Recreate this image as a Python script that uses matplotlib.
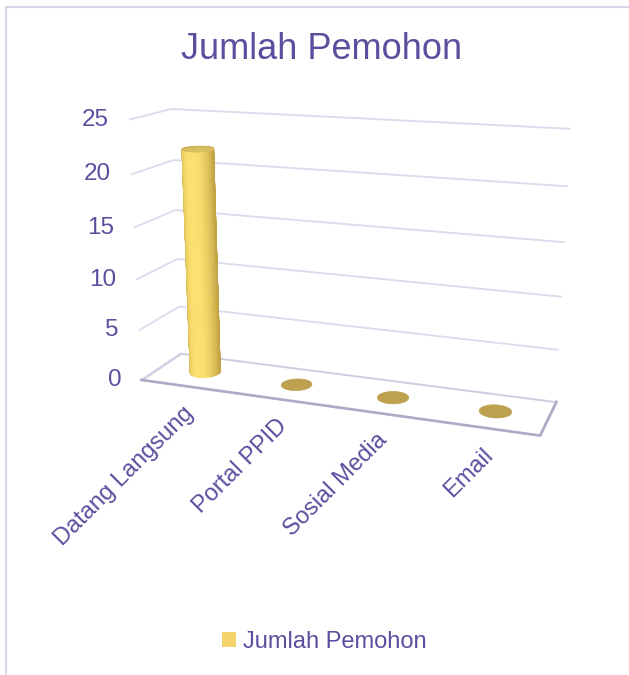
import numpy as np
import matplotlib.pyplot as plt
from matplotlib.patches import Patch, Rectangle
from matplotlib.colors import LinearSegmentedColormap
from matplotlib.transforms import offset_copy
from mpl_toolkits.mplot3d import proj3d
from mpl_toolkits.mplot3d.art3d import Poly3DCollection, Line3DCollection

plt.rcParams['font.family'] = ['Liberation Sans', 'DejaVu Sans']

# chart data
categories = ['Datang Langsung', 'Portal PPID', 'Sosial Media', 'Email']
values = [22, 0, 0, 0]
z_ticks = [0, 5, 10, 15, 20, 25]
chart_title = 'Jumlah Pemohon'
series_name = 'Jumlah Pemohon'

text_color = '#5a4f9f'
grid_color = '#dcdaec'
floor_edge = '#aeaac6'
bar_color = '#f3d36a'
disc_color = '#bea14f'
top_color = '#d6bd5e'
bar_cmap = LinearSegmentedColormap.from_list('bar', ['#c2a444', '#dcc05a', '#fde170'])

fig = plt.figure(figsize=(6.29, 6.75), dpi=100)
ax = fig.add_axes([0.015, 0.212, 1.04, 0.78], projection='3d', computed_zorder=False)
ax.set_proj_type('persp', focal_length=0.4)
ax.view_init(elev=15, azim=-70)

xmin, xmax = -0.5, len(categories) - 0.5
ymin, ymax = -0.5, 0.5
zmax = z_ticks[-1]
ax.set_xlim(xmin, xmax)
ax.set_ylim(ymin, ymax)
ax.set_zlim(0, zmax)
ax.set_box_aspect((4.76, 1, 3.1), zoom=0.945)
ax.set_axis_off()

# walls: gridlines on left side wall and back wall
segs = []
for t in z_ticks:
    segs.append([(xmin, ymin, t), (xmin, ymax, t)])
    if t > 0:
        segs.append([(xmin, ymax, t), (xmax, ymax, t)])
ax.add_collection3d(Line3DCollection(segs, colors=grid_color, linewidths=1.3, zorder=1))

# floor
floor = [[(xmin, ymin, 0), (xmax, ymin, 0), (xmax, ymax, 0), (xmin, ymax, 0)]]
ax.add_collection3d(Poly3DCollection(floor, facecolor='white', edgecolor='#cfcce0',
                                     linewidth=1.4, zorder=2))
ax.plot([xmin, xmax, xmax], [ymin, ymin, ymax], [0, 0, 0], color=floor_edge, lw=1.8, zorder=3)

# cylinders
rx, ry = 0.15, 0.19
theta = np.linspace(0, 2 * np.pi, 121)
light = np.deg2rad(-85)
for i, v in enumerate(values):
    cx = i + rx * np.cos(theta)
    cy = ry * np.sin(theta)
    if v > 0:
        sides = []
        for k in range(len(theta) - 1):
            sides.append([(cx[k], cy[k], 0), (cx[k + 1], cy[k + 1], 0),
                          (cx[k + 1], cy[k + 1], v), (cx[k], cy[k], v)])
        mid = (theta[:-1] + theta[1:]) / 2
        cols = bar_cmap(np.clip(np.cos(mid - light), 0, 1))
        ax.add_collection3d(Poly3DCollection(sides, facecolors=cols, edgecolors=cols,
                                             linewidth=0.6, zorder=5))
        top = [list(zip(cx, cy, np.full_like(theta, v)))]
        ax.add_collection3d(Poly3DCollection(top, facecolor=top_color, edgecolor=top_color,
                                             linewidth=0.5, zorder=6))
    else:
        disc = [list(zip(cx, cy, np.zeros_like(theta)))]
        ax.add_collection3d(Poly3DCollection(disc, facecolor=disc_color, edgecolor=disc_color,
                                             linewidth=0.5, zorder=4))

# labels placed at projected 3D positions
fig.canvas.draw()
M = ax.get_proj()

tick_tr = offset_copy(ax.transData, fig=fig, x=-20, y=0, units='dots')
for t in z_ticks:
    px, py, _ = proj3d.proj_transform(xmin, ymin, t, M)
    ax.text2D(px, py, str(t), transform=tick_tr, ha='right', va='center',
              fontsize=17.5, color=text_color)

cat_tr = offset_copy(ax.transData, fig=fig, x=-3, y=-16, units='dots')
for i, name in enumerate(categories):
    px, py, _ = proj3d.proj_transform(i, ymin, 0, M)
    ax.text2D(px, py, name, transform=cat_tr, rotation=45, rotation_mode='anchor',
              ha='right', va='top', fontsize=17, color=text_color)

fig.text(0.511, 0.926, chart_title, ha='center', va='center', fontsize=26, color=text_color)

fig.legend(handles=[Patch(facecolor=bar_color)], labels=[series_name], loc='center',
           bbox_to_anchor=(0.516, 1 - 642 / 675), frameon=False, fontsize=17,
           labelcolor=text_color, handlelength=0.6, handleheight=0.6, handletextpad=0.3)

fig.patches.append(Rectangle((6 / 629, -0.1), 1.2, 1 - 7 / 675 + 0.1, transform=fig.transFigure,
                             fill=False, edgecolor='#d8d6ea', lw=1.5))

fig.savefig('out.png', dpi=100)
